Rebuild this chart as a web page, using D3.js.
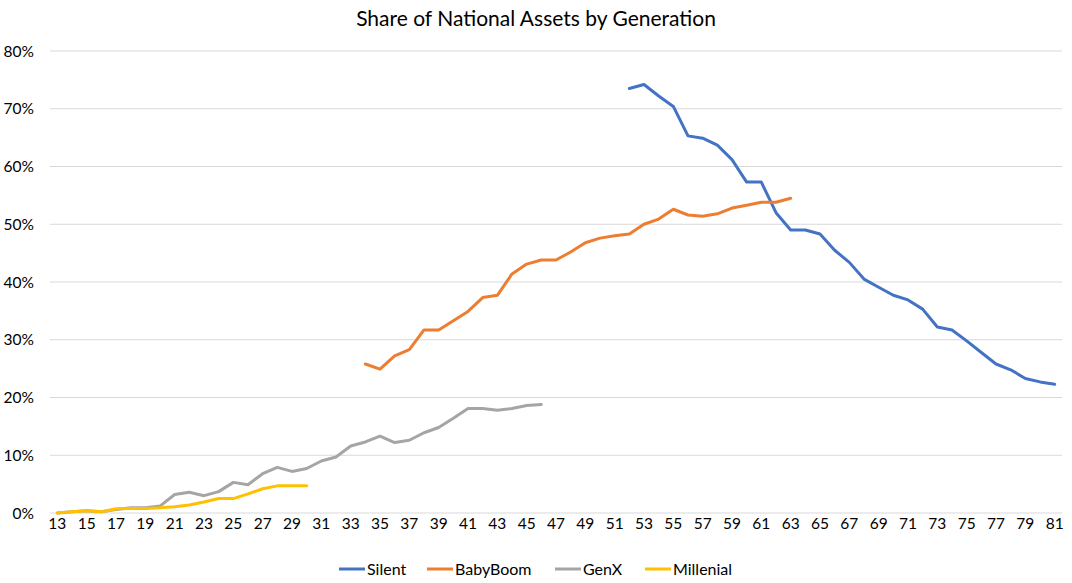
<!DOCTYPE html>
<html><head><meta charset="utf-8">
<script src="https://cdn.jsdelivr.net/npm/d3@7"></script>
<style>body{margin:0;background:#fff}svg{display:block}text{font-family:"Lato","Open Sans",sans-serif;fill:#000}</style>
</head><body><svg id="c" width="1072" height="583"></svg>
<script>
const ages = d3.range(13, 82);
const yTicks = [0, 10, 20, 30, 40, 50, 60, 70, 80];
const seriesNames = ["Silent", "BabyBoom", "GenX", "Millenial"];
const seriesColors = ["#4472C4", "#ED7D31", "#A5A5A5", "#FFC000"];
// values start at given age
const silentStart = 52;
const silent = [73.5, 74.2, 72.2, 70.4, 65.3, 64.9, 63.7, 61.2, 57.3, 57.3, 52.0, 49.0, 49.0, 48.3, 45.5, 43.4, 40.5, 39.1, 37.7, 36.9, 35.3, 32.2, 31.7, 29.8, 27.8, 25.8, 24.8, 23.3, 22.7, 22.3];
const boomStart = 34;
const babyBoom = [25.8, 24.9, 27.2, 28.3, 31.7, 31.7, 33.3, 34.9, 37.3, 37.7, 41.4, 43.1, 43.8, 43.8, 45.2, 46.8, 47.6, 48.0, 48.3, 50.0, 50.9, 52.6, 51.6, 51.4, 51.8, 52.8, 53.3, 53.8, 53.8, 54.5];
const genXStart = 13;
const genX = [0.0, 0.2, 0.4, 0.2, 0.6, 0.9, 0.9, 1.2, 3.2, 3.6, 3.0, 3.7, 5.3, 4.9, 6.8, 7.9, 7.2, 7.7, 9.0, 9.7, 11.6, 12.3, 13.3, 12.2, 12.6, 13.9, 14.8, 16.4, 18.1, 18.1, 17.8, 18.1, 18.6, 18.8];
const millStart = 13;
const millenial = [0.0, 0.2, 0.4, 0.2, 0.75, 0.8, 0.8, 0.9, 1.1, 1.4, 1.9, 2.5, 2.5, 3.3, 4.2, 4.7, 4.7, 4.7];

const svg = d3.select("#c");
const L = 50, R = 1062, T = 51, B = 513;
const x = d3.scaleBand().domain(ages).range([L, R]);
const y = d3.scaleLinear().domain([0, 80]).range([B, T]);
const cx = a => x(a) + x.bandwidth() / 2;

svg.append("text").attr("x", 536).attr("y", 26).attr("text-anchor", "middle")
  .style("font-size", "21px").text("Share of National Assets by Generation");

const g = svg.append("g");
g.selectAll("line.grid").data(yTicks).join("line")
  .attr("x1", L).attr("x2", R).attr("y1", d => y(d)).attr("y2", d => y(d))
  .attr("stroke", "#D9D9D9").attr("stroke-width", 1);
g.selectAll("text.yl").data(yTicks).join("text")
  .attr("x", 34).attr("y", d => y(d) + 5.5).attr("text-anchor", "end")
  .style("font-size", "15.5px").text(d => d + "%");
g.selectAll("text.xl").data(ages.filter(a => a % 2 === 1)).join("text")
  .attr("x", d => cx(d)).attr("y", 529).attr("text-anchor", "middle")
  .style("font-size", "15.5px").text(d => d);

const series = [
  {start: silentStart, vals: silent},
  {start: boomStart, vals: babyBoom},
  {start: genXStart, vals: genX},
  {start: millStart, vals: millenial}
];
const line = d3.line().x(d => cx(d[0])).y(d => y(d[1]));
series.forEach((s, i) => {
  const pts = s.vals.map((v, j) => [s.start + j, v]);
  svg.append("path").attr("d", line(pts)).attr("fill", "none")
    .attr("stroke", seriesColors[i]).attr("stroke-width", 3)
    .attr("stroke-linejoin", "round").attr("stroke-linecap", "round");
});

const legX = [339, 427, 555, 645];
const lg = svg.append("g");
seriesNames.forEach((n, i) => {
  lg.append("line").attr("x1", legX[i]).attr("x2", legX[i] + 26).attr("y1", 569).attr("y2", 569)
    .attr("stroke", seriesColors[i]).attr("stroke-width", 3);
  lg.append("text").attr("x", legX[i] + 28).attr("y", 575).style("font-size", "16px").text(n);
});
</script></body></html>
